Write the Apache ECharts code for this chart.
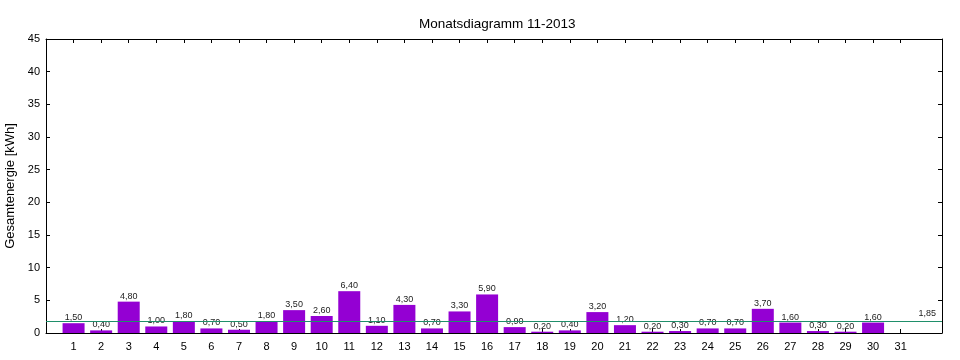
<!DOCTYPE html>
<html>
<head>
<meta charset="utf-8">
<script src="https://cdn.jsdelivr.net/npm/echarts@6/dist/echarts.min.js"></script>
<style>html,body{margin:0;padding:0;background:#fff}#c{width:960px;height:360px}</style>
</head>
<body>
<div id="c"></div>
<script>
var days = [1,2,3,4,5,6,7,8,9,10,11,12,13,14,15,16,17,18,19,20,21,22,23,24,25,26,27,28,29,30];
var values = [1.5,0.4,4.8,1.0,1.8,0.7,0.5,1.8,3.5,2.6,6.4,1.1,4.3,0.7,3.3,5.9,0.9,0.2,0.4,3.2,1.2,0.2,0.3,0.7,0.7,3.7,1.6,0.3,0.2,1.6];
var xTicks = [1,2,3,4,5,6,7,8,9,10,11,12,13,14,15,16,17,18,19,20,21,22,23,24,25,26,27,28,29,30,31];
var average = 1.85;
var titleText = 'Monatsdiagramm 11-2013';
var yName = 'Gesamtenergie [kWh]';

function fmt(v){ return v.toFixed(2).replace('.', ','); }

var font = 'Liberation Sans, Arial, sans-serif';
var barData = days.map(function(d,i){ return [d, values[i]]; });

var chart = echarts.init(document.getElementById('c'), null, {renderer:'canvas'});
function baseX(){ return {
  type:'value', min:0, max:32.5, interval:1,
  axisLine:{show:true, onZero:false, lineStyle:{color:'#000', width:1}},
  splitLine:{show:false},
  axisTick:{show:true, inside:true, length:4, lineStyle:{color:'#000'}, customValues:xTicks}
}; }
function baseY(){ return {
  type:'value', min:0, max:45, interval:5,
  axisLine:{show:true, onZero:false, lineStyle:{color:'#000', width:1}},
  splitLine:{show:false},
  axisTick:{show:true, inside:true, length:4, lineStyle:{color:'#000'}}
}; }
chart.setOption({
  animation:false,
  backgroundColor:'#fff',
  title:{text:titleText, left:414, top:12, textStyle:{fontFamily:font, fontSize:13.5, fontWeight:'normal', color:'#000'}},
  grid:{left:46, right:18, top:39, bottom:27, containLabel:false, outerBoundsMode:'none'},
  xAxis:[
    Object.assign(baseX(), {position:'bottom',
      axisLabel:{show:true, customValues:xTicks, margin:8, fontFamily:font, fontSize:11, color:'#000'}}),
    Object.assign(baseX(), {position:'top', axisLabel:{show:false}})
  ],
  yAxis:[
    Object.assign(baseY(), {position:'left', name:yName, nameLocation:'middle', nameGap:28,
      nameTextStyle:{fontFamily:font, fontSize:13, color:'#000'},
      axisLabel:{show:true, margin:6, fontFamily:font, fontSize:11, color:'#000'}}),
    Object.assign(baseY(), {position:'right', axisLabel:{show:false}})
  ],
  series:[{
    type:'bar', xAxisIndex:0, yAxisIndex:0, data:barData, barWidth:22,
    itemStyle:{color:'#9400d3'},
    label:{show:true, position:'top', distance:1, fontFamily:font, fontSize:9, color:'#222',
      formatter:function(p){ return fmt(p.value[1]); }},
    markLine:{silent:true, symbol:'none',
      lineStyle:{color:'#1f8f6a', width:1, type:'solid'},
      label:{show:true, position:'insideEndTop', distance:[6,3], fontFamily:font, fontSize:9, color:'#222',
        formatter:function(){ return fmt(average); }},
      data:[{yAxis:average}]}
  }]
});
</script>
</body>
</html>
